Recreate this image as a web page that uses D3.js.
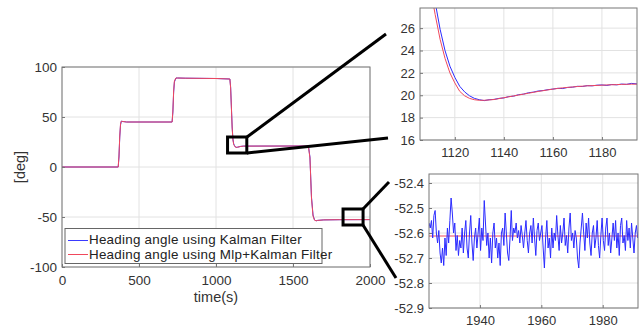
<!DOCTYPE html>
<html>
<head>
<meta charset="utf-8">
<script src="https://cdn.jsdelivr.net/npm/d3@7"></script>
<style>
  body { margin: 0; background: #fff; }
  svg { font-family: "Liberation Sans", Arial, sans-serif; }
  .tick text { fill: #333; }
</style>
</head>
<body>
<div id="canvas"></div>
<script>
// main chart: heading angle over the whole run
const mainTime = [0, 365, 370, 375, 380, 385, 395, 420, 715, 720, 725, 730, 740, 750, 800, 1000,
    1090, 1095, 1100, 1105, 1110, 1115, 1120, 1125, 1130, 1140, 1160, 1180, 1600, 1610, 1615,
    1620, 1630, 1640, 1650, 1660, 1700, 1800, 2000];
const mainKalman = [0, 0, 10, 30, 42, 45.8, 45.5, 45, 45, 55, 75, 85, 89, 89, 88.8, 88.5,
    88, 80, 60, 40, 28, 23, 21.6, 20.3, 19.6, 19.8, 20.6, 20.9, 21, 10, -10,
    -30, -48, -53, -53.8, -53.4, -52.9, -52.7, -52.6];
const mainMlp = [0, 0, 11, 31, 43, 45.8, 45.5, 45, 45, 56, 76, 86, 89, 89, 88.8, 88.5,
    88, 79, 59, 39, 27, 22.5, 21.1, 20.0, 19.55, 19.8, 20.55, 20.9, 21, 9, -11,
    -31, -49, -53.2, -53.8, -53.4, -52.9, -52.7, -52.62];

// zoom 1: settling after the drop near t = 1110
const zoom1Time = [1108, 1110, 1112, 1114, 1116, 1118, 1120, 1122, 1124, 1126, 1128, 1130, 1132,
    1134, 1136, 1138, 1140, 1142, 1144, 1146, 1148, 1150, 1152, 1154, 1156, 1158, 1160, 1162,
    1164, 1166, 1168, 1170, 1172, 1174, 1176, 1178, 1180, 1182, 1184, 1186, 1188, 1190, 1192, 1195];
const zoom1Kalman = [32.5, 30.6, 28.3, 25.9, 24.0, 22.6, 21.6, 20.8, 20.3, 19.95, 19.72, 19.6, 19.52,
    19.6, 19.63, 19.72, 19.76, 19.88, 19.92, 20.05, 20.1, 20.22, 20.28, 20.38, 20.42, 20.5, 20.55, 20.62,
    20.6, 20.7, 20.72, 20.8, 20.78, 20.86, 20.84, 20.9, 20.92, 20.88, 20.96, 20.93, 21.0, 20.97, 21.06, 21.0];
const zoom1Mlp = [31.8, 29.6, 27.2, 25.0, 23.3, 22.0, 21.1, 20.35, 19.95, 19.72, 19.6, 19.55, 19.55,
    19.58, 19.62, 19.7, 19.78, 19.86, 19.94, 20.02, 20.1, 20.18, 20.26, 20.34, 20.41, 20.48, 20.55, 20.61,
    20.66, 20.7, 20.74, 20.78, 20.81, 20.84, 20.86, 20.88, 20.9, 20.92, 20.94, 20.95, 20.97, 20.98, 20.99, 21.0];

// zoom 2: steady state near -52.6, sampled every 0.4 s from t = 1923.4
const zoom2Start = 1923.4, zoom2Step = 0.4;
const zoom2Kalman = [
    -52.56, -52.58, -52.55, -52.62, -52.53, -52.51, -52.6, -52.64, -52.59, -52.68,
    -52.72, -52.66, -52.73, -52.62, -52.69, -52.58, -52.64, -52.55, -52.46, -52.52,
    -52.6, -52.56, -52.67, -52.61, -52.69, -52.63, -52.66, -52.58, -52.68, -52.6,
    -52.55, -52.66, -52.7, -52.6, -52.53, -52.64, -52.71, -52.62, -52.58, -52.66,
    -52.6, -52.54, -52.67, -52.58, -52.63, -52.47, -52.56, -52.65, -52.6, -52.7,
    -52.62, -52.72, -52.6, -52.56, -52.66, -52.62, -52.7, -52.64, -52.73, -52.6,
    -52.58, -52.65, -52.52, -52.6, -52.68, -52.71, -52.62, -52.51, -52.63, -52.58,
    -52.6, -52.56, -52.62, -52.59, -52.64, -52.57, -52.61, -52.66, -52.6, -52.55,
    -52.63, -52.68, -52.6, -52.57, -52.64, -52.54, -52.62, -52.69, -52.59, -52.56,
    -52.63, -52.6, -52.57, -52.66, -52.74, -52.62, -52.55, -52.66, -52.62, -52.7,
    -52.58, -52.66, -52.6, -52.63, -52.53, -52.61, -52.67, -52.57, -52.64, -52.6,
    -52.54, -52.65, -52.61, -52.68, -52.58, -52.52, -52.63, -52.6, -52.66, -52.59,
    -52.62, -52.7, -52.74, -52.64, -52.58, -52.52, -52.6, -52.67, -52.56, -52.62,
    -52.54, -52.64, -52.69, -52.6, -52.57, -52.66, -52.62, -52.55, -52.65, -52.7,
    -52.61, -52.54, -52.63, -52.67, -52.58, -52.54, -52.65, -52.6, -52.68, -52.62,
    -52.56, -52.63, -52.55, -52.66, -52.6, -52.69, -52.57, -52.54, -52.64, -52.61,
    -52.67, -52.55, -52.63, -52.58, -52.66, -52.56, -52.62, -52.68, -52.6, -52.57, -52.62];
const zoom2MlpTime = [1920, 1995];
const zoom2Mlp = [-52.612, -52.612];

const legendLabels = ["Heading angle using Kalman Filter", "Heading angle using Mlp+Kalman Filter"];
const blue = "#2b2bff", red = "#f0485c";

const W = 643, H = 328;
const svg = d3.select("#canvas").append("svg")
    .attr("width", W).attr("height", H);

// plain hyphen for negatives, like the original figure
const fmtInt = d => String(Math.round(d));
const fmt1 = d => d.toFixed(1);

// draws one axes box with grid, ticks and lines
function panel(id, box, xDomain, yDomain, xTicks, yTicks, yFmt, fontSize, series) {
    const x = d3.scaleLinear().domain(xDomain).range([box.left, box.left + box.w]);
    const y = d3.scaleLinear().domain(yDomain).range([box.top + box.h, box.top]);
    const g = svg.append("g");

    g.append("rect")
        .attr("x", box.left).attr("y", box.top)
        .attr("width", box.w).attr("height", box.h)
        .attr("fill", "#fff");

    // grid
    g.append("g").selectAll("line").data(xTicks).join("line")
        .attr("x1", d => x(d)).attr("x2", d => x(d))
        .attr("y1", box.top).attr("y2", box.top + box.h)
        .attr("stroke", "#e2e2e2");
    g.append("g").selectAll("line").data(yTicks).join("line")
        .attr("y1", d => y(d)).attr("y2", d => y(d))
        .attr("x1", box.left).attr("x2", box.left + box.w)
        .attr("stroke", "#e2e2e2");

    svg.append("clipPath").attr("id", id)
        .append("rect")
        .attr("x", box.left).attr("y", box.top)
        .attr("width", box.w).attr("height", box.h);

    const lines = g.append("g").attr("clip-path", "url(#" + id + ")");
    series.forEach(s => {
        lines.append("path")
            .datum(s.t.map((t, i) => [t, s.v[i]]))
            .attr("fill", "none")
            .attr("stroke", s.color)
            .attr("stroke-width", s.width || 1)
            .attr("d", d3.line().x(d => x(d[0])).y(d => y(d[1])));
    });

    const xAxis = g.append("g")
        .attr("transform", "translate(0," + (box.top + box.h) + ")")
        .call(d3.axisBottom(x).tickValues(xTicks).tickFormat(fmtInt).tickSizeInner(-3).tickSizeOuter(0).tickPadding(8));
    const yAxis = g.append("g")
        .attr("transform", "translate(" + box.left + ",0)")
        .call(d3.axisLeft(y).tickValues(yTicks).tickFormat(yFmt).tickSizeInner(-3).tickSizeOuter(0).tickPadding(5));
    [xAxis, yAxis].forEach(a => {
        a.select(".domain").remove();
        a.selectAll(".tick line").attr("stroke", "#777");
        a.selectAll(".tick text").style("font-size", fontSize + "px");
    });

    g.append("rect")
        .attr("x", box.left).attr("y", box.top)
        .attr("width", box.w).attr("height", box.h)
        .attr("fill", "none").attr("stroke", "#777");

    return {x, y};
}

const mainBox = {left: 62, top: 67, w: 308, h: 200};
const main = panel("clipMain", mainBox, [0, 2000], [-100, 100],
    [0, 500, 1000, 1500, 2000], [-100, -50, 0, 50, 100], fmtInt, 13.5,
    [{t: mainTime, v: mainKalman, color: blue}, {t: mainTime, v: mainMlp, color: red}]);

svg.append("text")
    .attr("x", mainBox.left + mainBox.w / 2).attr("y", 302)
    .attr("text-anchor", "middle")
    .style("font-size", "14.5px").attr("fill", "#333")
    .text("time(s)");
svg.append("text")
    .attr("transform", "translate(25," + (mainBox.top + mainBox.h / 2) + ") rotate(-90)")
    .attr("text-anchor", "middle")
    .style("font-size", "14.5px").attr("fill", "#333")
    .text("[deg]");

// legend
const leg = svg.append("g");
leg.append("rect")
    .attr("x", 65).attr("y", 228.5).attr("width", 257).attr("height", 35)
    .attr("fill", "#fff").attr("stroke", "#666");
legendLabels.forEach((lab, i) => {
    const yy = 240 + i * 14;
    leg.append("line")
        .attr("x1", 68).attr("x2", 88).attr("y1", yy + 0.5).attr("y2", yy + 0.5)
        .attr("stroke", i === 0 ? "#3a3aff" : red);
    leg.append("text")
        .attr("x", 89).attr("y", 244 + i * 15)
        .style("font-size", "13.4px").style("letter-spacing", "0.25px")
        .attr("fill", "#222")
        .text(lab);
});

const box1 = {left: 420, top: 8, w: 217, h: 132};
panel("clipZoom1", box1, [1105.8, 1194.3], [16, 27.8],
    [1120, 1140, 1160, 1180], [16, 18, 20, 22, 24, 26], fmtInt, 13,
    [{t: zoom1Time, v: zoom1Kalman, color: blue}, {t: zoom1Time, v: zoom1Mlp, color: red}]);

const box2 = {left: 429, top: 174, w: 209, h: 134};
const zoom2Time = zoom2Kalman.map((_, i) => zoom2Start + i * zoom2Step);
panel("clipZoom2", box2, [1923.4, 1991.5], [-52.9, -52.364],
    [1940, 1960, 1980], [-52.9, -52.8, -52.7, -52.6, -52.5, -52.4], fmt1, 13,
    [{t: zoom2MlpTime, v: zoom2Mlp, color: red}, {t: zoom2Time, v: zoom2Kalman, color: blue}]);

// zoom markers on the main axes and connector lines
const marks = [
    {x0: 1075, x1: 1200, y0: 30, y1: 14},
    {x0: 1825, x1: 1955, y0: -42, y1: -58}
];
marks.forEach(m => {
    svg.append("rect")
        .attr("x", main.x(m.x0)).attr("y", main.y(m.y0))
        .attr("width", main.x(m.x1) - main.x(m.x0))
        .attr("height", main.y(m.y1) - main.y(m.y0))
        .attr("fill", "none").attr("stroke", "#000").attr("stroke-width", 3);
});
const connectors = [
    [[247, 137], [386, 34]],
    [[247, 153], [388, 138]],
    [[363, 209], [389, 182]],
    [[363, 225], [396, 278]]
];
connectors.forEach(c => {
    svg.append("line")
        .attr("x1", c[0][0]).attr("y1", c[0][1])
        .attr("x2", c[1][0]).attr("y2", c[1][1])
        .attr("stroke", "#000").attr("stroke-width", 3);
});
</script>
</body>
</html>
